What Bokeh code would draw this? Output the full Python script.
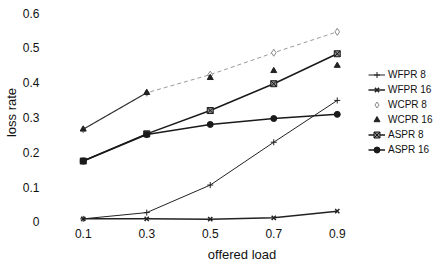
from bokeh.plotting import figure
from bokeh.models import Range1d, FixedTicker, Legend, LegendItem
from bokeh.embed import file_html
from bokeh.resources import INLINE

loads = [0.1, 0.3, 0.5, 0.7, 0.9]
wfpr8 = [0.009, 0.027, 0.106, 0.229, 0.349]
wfpr16 = [0.009, 0.009, 0.008, 0.012, 0.031]
wcpr8 = [0.266, 0.371, 0.423, 0.486, 0.546]
wcpr16 = [0.266, 0.371, 0.414, 0.434, 0.449]
aspr8 = [0.175, 0.253, 0.320, 0.397, 0.483]
aspr16 = [0.175, 0.251, 0.280, 0.297, 0.309]
y_ticks = [0, 0.1, 0.2, 0.3, 0.4, 0.5, 0.6]
y_labels = {0: "0", 0.1: "0.1", 0.2: "0.2", 0.3: "0.3", 0.4: "0.4", 0.5: "0.5", 0.6: "0.6"}

FONT = "Liberation Sans"

p = figure(width=436, height=268, output_backend="svg", toolbar_location=None,
           x_range=Range1d(-0.0125, 1.2125), y_range=Range1d(-0.0072, 0.6359),
           min_border_left=44, min_border_right=0, min_border_top=0, min_border_bottom=44)
p.outline_line_color = None
p.xgrid.visible = False
p.ygrid.visible = False

for ax in (p.xaxis[0], p.yaxis[0]):
    ax.axis_line_color = None
    ax.major_tick_out = 0
    ax.major_tick_in = 0
    ax.minor_tick_out = 0
    ax.minor_tick_in = 0
    ax.major_label_text_font = FONT
    ax.major_label_text_font_size = "12px"
    ax.major_label_text_color = "#111111"
    ax.axis_label_text_font = FONT
    ax.axis_label_text_font_size = "13px"
    ax.axis_label_text_font_style = "normal"
    ax.axis_label_text_color = "#111111"

p.xaxis.ticker = FixedTicker(ticks=loads)
p.xaxis.major_label_standoff = 4
p.xaxis.axis_label = "offered load"
p.xaxis.axis_label_standoff = 6

p.yaxis.ticker = FixedTicker(ticks=y_ticks)
p.yaxis.major_label_overrides = y_labels
p.yaxis.major_label_standoff = 8
p.yaxis.axis_label = "loss rate"
p.yaxis.axis_label_standoff = 1

items = []
r1 = p.line(loads, wfpr8, line_color="#222222", line_width=1)
m1 = p.scatter(loads, wfpr8, marker="cross", size=6, line_color="#222222", line_width=1)
items.append(LegendItem(label="WFPR 8", renderers=[r1, m1]))

r2 = p.line(loads, wfpr16, line_color="#222222", line_width=1.5)
m2 = p.scatter(loads, wfpr16, marker="x", size=6, line_color="#222222", line_width=1.5)
items.append(LegendItem(label="WFPR 16", renderers=[r2, m2]))

r3 = p.line(loads, wcpr8, line_color="#9a9a9a", line_width=1, line_dash="4 3")
m3 = p.scatter(loads, wcpr8, marker="diamond", size=7, line_color="#888888", fill_color="white", line_width=1)
items.append(LegendItem(label="WCPR 8", renderers=[m3]))

r4 = p.line(loads[:2], wcpr16[:2], line_color="#333333", line_width=1.2)
m4 = p.scatter(loads, wcpr16, marker="triangle", size=6, line_color="#222222", fill_color="#222222")
items.append(LegendItem(label="WCPR 16", renderers=[m4]))

r5 = p.line(loads, aspr8, line_color="#1a1a1a", line_width=1.5)
m5 = p.scatter(loads, aspr8, marker="square_x", size=6, line_color="#1a1a1a", fill_color="#888888", line_width=1)
items.append(LegendItem(label="ASPR 8", renderers=[r5, m5]))

r6 = p.line(loads, aspr16, line_color="#1a1a1a", line_width=1.5)
m6 = p.scatter(loads, aspr16, marker="circle", size=6, line_color="#1a1a1a", fill_color="#1a1a1a")
items.append(LegendItem(label="ASPR 16", renderers=[r6, m6]))

legend = Legend(items=items, location=(321, 67), orientation="vertical",
                background_fill_alpha=0, border_line_color=None,
                padding=0, margin=0, spacing=0,
                glyph_width=17, glyph_height=15, label_height=15,
                label_standoff=3, label_text_font=FONT, label_text_font_size="10px",
                label_text_color="#111111")
p.add_layout(legend)

open("out.html", "w").write(file_html(p, INLINE))
